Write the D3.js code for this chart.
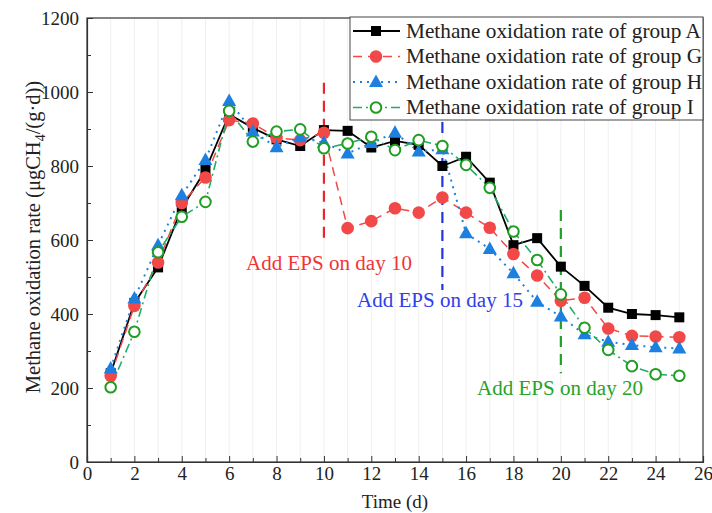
<!DOCTYPE html>
<html><head><meta charset="utf-8">
<script src="https://cdn.jsdelivr.net/npm/d3@7"></script>
<style>body{margin:0;background:#fff}svg{display:block}text{font-family:"Liberation Serif","Times New Roman",serif}</style>
</head><body>
<svg id="c" width="712" height="513"></svg>
<script>
const days = d3.range(1, 26);
const groupA = [240, 430, 526, 686, 789, 940, 903, 872, 854, 897, 895, 850, 868, 857, 800, 825, 755, 586, 605, 528, 476, 417, 400, 397, 391];
const groupG = [233, 422, 539, 700, 769, 924, 915, 876, 870, 890, 632, 651, 686, 674, 715, 674, 633, 562, 504, 436, 444, 361, 341, 339, 337];
const groupH = [253, 442, 586, 721, 816, 976, 893, 851, 878, 863, 834, 862, 890, 839, 845, 618, 576, 510, 433, 393, 345, 325, 316, 310, 307];
const groupI = [202, 352, 567, 663, 703, 949, 866, 893, 899, 848, 861, 879, 843, 870, 854, 803, 741, 623, 546, 453, 363, 303, 259, 237, 233];
const seriesNames = ["Methane oxidation rate of group A","Methane oxidation rate of group G","Methane oxidation rate of group H","Methane oxidation rate of group I"];
const xTicks = d3.range(0, 27, 2);
const yTicks = d3.range(0, 1201, 200);
const eventDays = [10, 15, 20];
const eventLabels = ["Add EPS on day 10","Add EPS on day 15","Add EPS on day 20"];

const svg = d3.select("#c");
const L = 87, R = 703, T = 18, B = 462;
const x = d3.scaleLinear().domain([0, 26]).range([L, R]);
const y = d3.scaleLinear().domain([0, 1200]).range([B, T]);

function fitText(sel, target) {
  const fs = parseFloat(sel.attr("font-size"));
  const w = sel.node().getComputedTextLength();
  if (w > 0) sel.attr("font-size", (fs * target / w).toFixed(2));
}

// faint grid
svg.append("g").selectAll("line").data(d3.range(1, 26)).join("line")
  .attr("x1", d => x(d)).attr("x2", d => x(d)).attr("y1", T).attr("y2", B)
  .attr("stroke", "#f0f0f0").attr("stroke-width", 1);

// frame
svg.append("rect").attr("x", L).attr("y", T).attr("width", R - L).attr("height", B - T)
  .attr("fill", "none").attr("stroke", "#333").attr("stroke-width", 1.2);

// axes
svg.append("g").attr("transform", `translate(0,${B})`)
  .call(d3.axisBottom(x).tickValues(xTicks).tickSize(-6).tickPadding(5).tickFormat(d3.format("d")));
svg.append("g").attr("transform", `translate(0,${B})`)
  .call(d3.axisBottom(x).tickValues(d3.range(1, 26, 2)).tickSize(-4).tickFormat(""))
  .call(g => g.select(".domain").remove());
svg.append("g").attr("transform", `translate(${L},0)`)
  .call(d3.axisLeft(y).tickValues(yTicks).tickSize(-6).tickPadding(8).tickFormat(d3.format("d")));
svg.append("g").attr("transform", `translate(${L},0)`)
  .call(d3.axisLeft(y).tickValues(d3.range(100, 1200, 200)).tickSize(-4).tickFormat(""))
  .call(g => g.select(".domain").remove());
svg.selectAll(".domain").attr("stroke", "#333").attr("stroke-width", 1.2);
svg.selectAll(".tick line").attr("stroke", "#333");
svg.selectAll(".tick text").attr("font-size", 19).attr("fill", "#222")
  .attr("font-family", "Liberation Serif, serif");

// axis titles
svg.append("text").attr("x", (L + R) / 2).attr("y", 508).attr("text-anchor", "middle")
  .attr("font-size", 19).attr("fill", "#222").text("Time (d)");
const yt = svg.append("text").attr("transform", "translate(40,237) rotate(-90)")
  .attr("text-anchor", "middle").attr("font-size", 20.5).attr("fill", "#222");
yt.append("tspan").text("Methane oxidation rate (μgCH");
yt.append("tspan").attr("font-size", 14).attr("dy", 5).text("4");
yt.append("tspan").attr("dy", -5).text("/(g·d))");

// event lines
const evColors = ["#e8262b", "#2236e0", "#1fa02a"];
const evTextColors = ["#ef3535", "#3040e8", "#26a32a"];
const evTop = [1025, 919, 681];
const evBottom = [592, 465, 240];
eventDays.forEach((d, i) => {
  svg.append("line").attr("x1", x(d)).attr("x2", x(d))
    .attr("y1", y(evTop[i])).attr("y2", y(evBottom[i]))
    .attr("stroke", evColors[i]).attr("stroke-width", 2.2).attr("stroke-dasharray", "11,7");
});
const labelPos = [[329, 270], [440, 307], [560, 395]];
eventLabels.forEach((t, i) => {
  const tx = svg.append("text").attr("x", labelPos[i][0]).attr("y", labelPos[i][1])
    .attr("text-anchor", "middle").attr("font-size", 20).attr("fill", evTextColors[i]).text(t);
  fitText(tx, 166);
});

// series
const series = [
  {vals: groupA, color: "#000", lineColor: "#000", dash: null, w: 1.8, marker: "square"},
  {vals: groupG, color: "#f24848", lineColor: "#f24848", dash: "9,6", w: 1.5, marker: "circle"},
  {vals: groupH, color: "#1d80e0", lineColor: "#1d80e0", dash: "2,5", w: 2, marker: "triangle"},
  {vals: groupI, color: "#1f9e22", lineColor: "#20ad6a", dash: "9,4,2,4", w: 1.6, marker: "open"}
];
const line = d3.line().x((d, i) => x(days[i])).y(d => y(d));
function drawMarker(g, type, cx, cy, color) {
  if (type === "square") g.append("rect").attr("x", cx - 5).attr("y", cy - 5).attr("width", 10).attr("height", 10).attr("fill", color);
  else if (type === "circle") g.append("circle").attr("cx", cx).attr("cy", cy).attr("r", 6.3).attr("fill", color);
  else if (type === "triangle") g.append("path").attr("d", `M${cx},${cy - 7.5}L${cx + 7},${cy + 5}L${cx - 7},${cy + 5}Z`).attr("fill", color);
  else g.append("circle").attr("cx", cx).attr("cy", cy).attr("r", 5.3).attr("fill", "#fff").attr("stroke", color).attr("stroke-width", 2);
}
series.forEach(s => {
  svg.append("path").datum(s.vals).attr("d", line).attr("fill", "none")
    .attr("stroke", s.lineColor).attr("stroke-width", s.w).attr("stroke-dasharray", s.dash);
});
series.forEach(s => {
  const g = svg.append("g");
  s.vals.forEach((v, i) => drawMarker(g, s.marker, x(days[i]), y(v), s.color));
});

// legend
const lg = svg.append("g");
lg.append("rect").attr("x", 350).attr("y", 17).attr("width", 353).attr("height", 103)
  .attr("fill", "#fff").attr("stroke", "#444").attr("stroke-width", 1);
let legendFs = null;
seriesNames.forEach((n, i) => {
  const yy = 31 + i * 25.5;
  const s = series[i];
  lg.append("line").attr("x1", 353).attr("x2", 400).attr("y1", yy).attr("y2", yy)
    .attr("stroke", s.lineColor).attr("stroke-width", s.w).attr("stroke-dasharray", s.dash);
  drawMarker(lg, s.marker, 376, yy, s.color);
  const t = lg.append("text").attr("x", 406).attr("y", yy + 6.5).attr("font-size", 19.5).attr("fill", "#222").text(n);
  if (i === 0) { fitText(t, 295); legendFs = t.attr("font-size"); }
  else t.attr("font-size", legendFs);
});
</script>
</body></html>
